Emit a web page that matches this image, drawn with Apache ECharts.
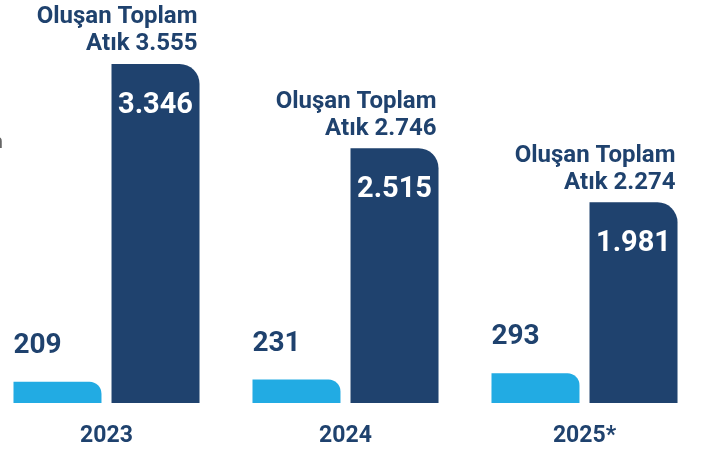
<!DOCTYPE html>
<html>
<head>
<meta charset="utf-8">
<script src="https://cdn.jsdelivr.net/npm/echarts@6/dist/echarts.min.js"></script>
<style>
  html, body { margin: 0; padding: 0; background: #ffffff; overflow: hidden; }
  /* the plot is slightly wider than the page so the outer bars sit at the edges */
  #chart { width: 717px; height: 451px; margin-left: -13px; }
</style>
</head>
<body>
<div id="chart"></div>
<script>
// Yıllara göre atık miktarları
const years = ['2023', '2024', '2025*'];
const lightValues = [209, 231, 293];
const navyValues = [3346, 2515, 1981];
const totalValues = [3555, 2746, 2274];

const NAVY = '#1f426e';
const LIGHT = '#22abe3';
const FONT = 'Roboto';

// Türkçe binlik ayırıcı: 3346 -> "3.346"
function fmt(v) {
  return String(v).replace(/\B(?=(\d{3})+(?!\d))/g, '.');
}

const chart = echarts.init(document.getElementById('chart'), null, { renderer: 'canvas' });

chart.setOption({
  animation: false,
  backgroundColor: '#ffffff',
  grid: { left: 0, right: 0, top: 18, bottom: 48 },
  graphic: [{
    type: 'text',
    left: 4,
    top: 132,
    style: { text: 'n', font: '20px "Noto Sans"', fill: '#666666' }
  }],
  xAxis: {
    type: 'category',
    data: years,
    axisLine: { show: false },
    axisTick: { show: false },
    axisLabel: {
      margin: 22,
      color: NAVY,
      fontFamily: FONT,
      fontWeight: 'bold',
      fontSize: 23
    }
  },
  yAxis: {
    type: 'value',
    min: 0,
    max: 3800,
    show: false,
    splitLine: { show: false }
  },
  series: [
    {
      type: 'bar',
      data: lightValues,
      barWidth: 88,
      barGap: '11.4%',
      itemStyle: { color: LIGHT, borderRadius: [0, 12, 0, 0] },
      label: {
        show: true,
        position: [0, -36],
        align: 'left',
        verticalAlign: 'middle',
        color: NAVY,
        fontFamily: FONT,
        fontWeight: 'bold',
        fontSize: 28,
        formatter: p => fmt(p.value)
      }
    },
    {
      type: 'bar',
      data: navyValues,
      barWidth: 88,
      barGap: '11.4%',
      itemStyle: { color: NAVY, borderRadius: [0, 20, 0, 0] },
      label: {
        show: true,
        position: 'insideTop',
        distance: 27,
        color: '#ffffff',
        fontFamily: FONT,
        fontWeight: 'bold',
        fontSize: 29,
        formatter: p => fmt(p.value)
      }
    },
    {
      // toplam atık etiketleri, koyu sütunun üst kenarına bağlı
      type: 'scatter',
      data: navyValues.map((v, i) => [i, v]),
      symbolSize: 0,
      silent: true,
      itemStyle: { opacity: 1 },
      label: {
        show: true,
        position: 'top',
        distance: 0,
        offset: [91, -6],
        align: 'right',
        verticalAlign: 'bottom',
        lineHeight: 27,
        opacity: 1,
        color: NAVY,
        fontFamily: FONT,
        fontWeight: 'bold',
        fontSize: 24,
        formatter: p => 'Oluşan Toplam\nAtık ' + fmt(totalValues[p.dataIndex])
      }
    }
  ]
});
</script>
</body>
</html>
